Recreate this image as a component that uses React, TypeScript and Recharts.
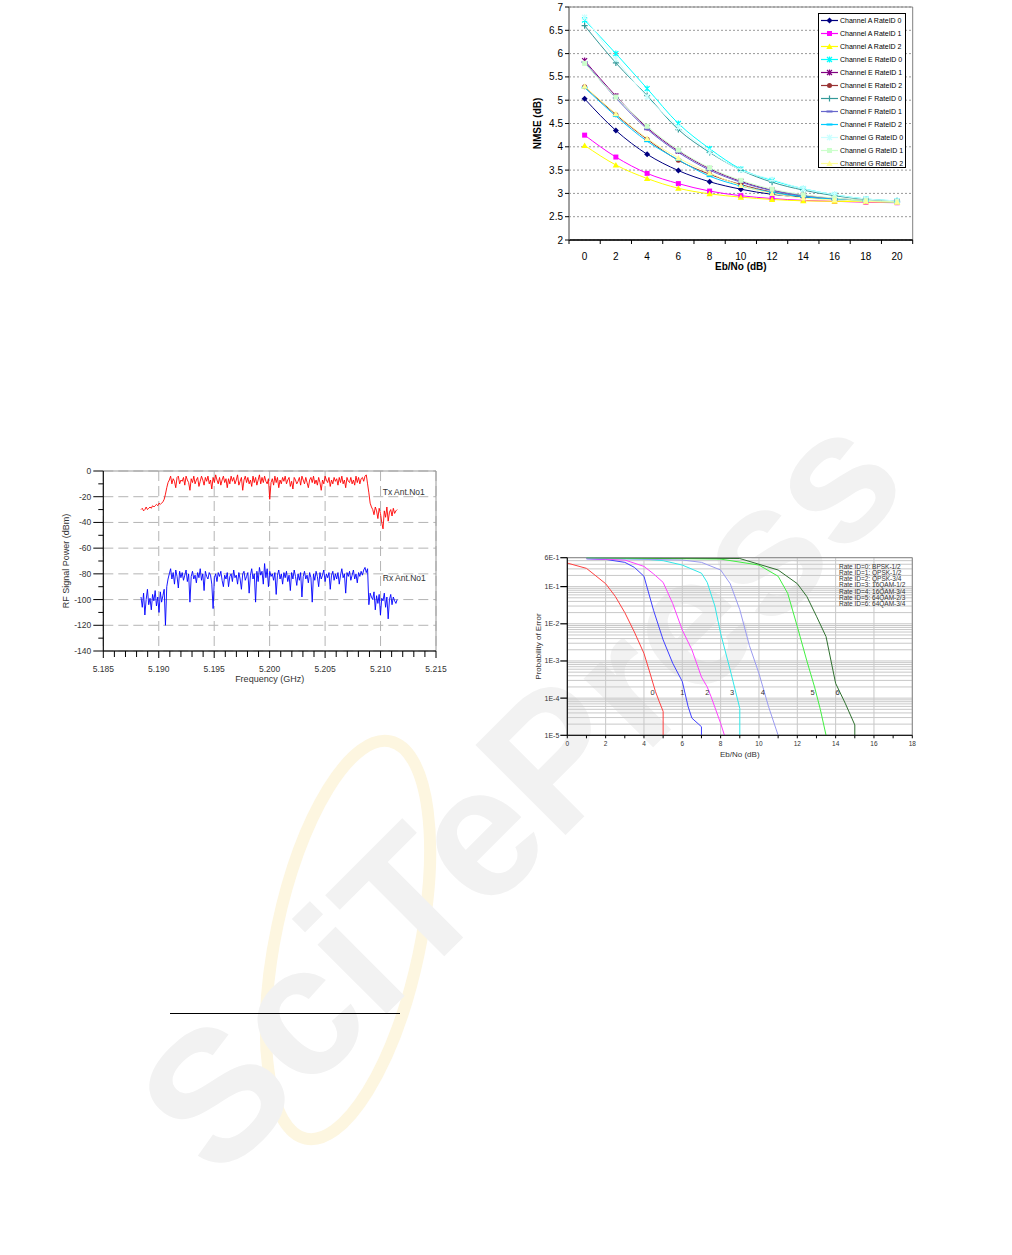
import React from "react"
import {
    LineChart,
    Line,
    XAxis,
    YAxis,
    CartesianGrid,
    ReferenceArea,
    ReferenceDot,
    Label
} from "recharts"

const FONT = "'Liberation Sans', Arial, sans-serif"

// ---------- NMSE vs Eb/No (top right) ----------
const ebNo = [0, 2, 4, 6, 8, 10, 12, 14, 16, 18, 20]
const nmseTicks = [2, 2.5, 3, 3.5, 4, 4.5, 5, 5.5, 6, 6.5, 7]
const chA0 = [5.03, 4.35, 3.84, 3.49, 3.25, 3.09, 2.98, 2.92, 2.87, 2.84, 2.82]
const chA1 = [4.25, 3.78, 3.43, 3.21, 3.05, 2.95, 2.89, 2.85, 2.83, 2.81, 2.8]
const chA2 = [4.03, 3.61, 3.32, 3.11, 2.99, 2.92, 2.87, 2.84, 2.83, 2.82, 2.81]
const chE0 = [6.72, 6.0, 5.25, 4.5, 3.96, 3.52, 3.28, 3.1, 2.97, 2.88, 2.84]
const chE1 = [5.85, 5.09, 4.41, 3.91, 3.53, 3.26, 3.07, 2.96, 2.89, 2.85, 2.82]
const chE2 = [5.29, 4.69, 4.16, 3.71, 3.41, 3.19, 3.03, 2.94, 2.88, 2.84, 2.81]
const chF0 = [6.6, 5.8, 5.1, 4.37, 3.88, 3.5, 3.24, 3.07, 2.95, 2.87, 2.84]
const chF1 = [5.82, 5.05, 4.38, 3.88, 3.5, 3.24, 3.06, 2.95, 2.88, 2.84, 2.82]
const chF2 = [5.27, 4.66, 4.12, 3.72, 3.37, 3.16, 3.02, 2.93, 2.87, 2.84, 2.81]
const chG0 = [6.78, 5.88, 5.07, 4.42, 3.9, 3.5, 3.3, 3.1, 2.97, 2.88, 2.84]
const chG1 = [5.79, 5.07, 4.44, 3.93, 3.55, 3.28, 3.09, 2.97, 2.9, 2.85, 2.82]
const chG2 = [5.3, 4.71, 4.18, 3.76, 3.44, 3.17, 3.0, 2.9, 2.86, 2.83, 2.81]

const nmseSeries = [
    { key: "a0", name: "Channel A RateID 0", color: "#000080", marker: "diamond", values: chA0 },
    { key: "a1", name: "Channel A RateID 1", color: "#ff00ff", marker: "square", values: chA1 },
    { key: "a2", name: "Channel A RateID 2", color: "#ffff00", marker: "triangle", values: chA2 },
    { key: "e0", name: "Channel E RateID 0", color: "#00ffff", marker: "star", values: chE0 },
    { key: "e1", name: "Channel E RateID 1", color: "#800080", marker: "star", values: chE1 },
    { key: "e2", name: "Channel E RateID 2", color: "#993333", marker: "circle", values: chE2 },
    { key: "f0", name: "Channel F RateID 0", color: "#339999", marker: "plus", values: chF0 },
    { key: "f1", name: "Channel F RateID 1", color: "#6666cc", marker: "dash", values: chF1 },
    { key: "f2", name: "Channel F RateID 2", color: "#00ccff", marker: "dash", values: chF2 },
    { key: "g0", name: "Channel G RateID 0", color: "#ccffff", marker: "star", values: chG0 },
    { key: "g1", name: "Channel G RateID 1", color: "#ccffcc", marker: "square", values: chG1 },
    { key: "g2", name: "Channel G RateID 2", color: "#ffff99", marker: "triangle", values: chG2 }
]

const nmseData = ebNo.map((x, i) => {
    const row: Record<string, number> = { x }
    nmseSeries.forEach(s => { row[s.key] = s.values[i] })
    return row
})

// ---------- RF signal power (left) ----------
const rfXTicks = [5.185, 5.19, 5.195, 5.2, 5.205, 5.21, 5.215]
const rfYTicks = [-140, -120, -100, -80, -60, -40, -20, 0]
const RF_START = 5.1884
const RF_END = 5.2115

const txPower = [
    -30, -29, -31, -30, -28, -30, -29, -28, -29, -27, -28, -27, -26, -27, -25, -26, -25, -24, -22,
    -18, -13, -9,
    -7, -4, -10, -6, -8, -13, -5, -4, -10, -7,
    -8, -5, -11, -4, -7, -9, -15, -6, -9, -4,
    -10, -7, -5, -12, -8, -4, -7, -11, -5, -8,
    -4, -10, -7, -14, -5, -9, -3, -7, -10, -5,
    -11, -7, -4, -9, -6, -13, -6, -10, -4, -8,
    -5, -10, -7, -3, -11, -8, -5, -15, -7, -4,
    -9, -5, -10, -7, -12, -4, -9, -5, -11, -7,
    -3, -10, -5, -9, -4, -8, -10, -6, -22, -9,
    -6, -11, -4, -9, -5, -13, -7, -10, -5, -8,
    -4, -10, -7, -5, -12, -8, -14, -5, -7, -10,
    -8, -5, -11, -4, -7, -10, -5, -9, -13, -7,
    -5, -9, -4, -10, -7, -11, -5, -9, -15, -7,
    -10, -4, -7, -9, -5, -12, -7, -10, -5, -8,
    -6, -11, -5, -9, -4, -10, -7, -13, -5, -8,
    -9, -5, -10, -7, -11, -4, -9, -5, -10, -6,
    -5, -8, -4, -3,
    -10, -17, -25, -28,
    -30, -34, -28, -31, -37, -29, -33, -40, -45, -31, -36, -28, -39, -32, -30, -35, -29, -33, -31, -30
]

const rxPower = [
    -98, -106, -95, -112, -100, -92, -104, -99, -108, -96, -101, -93, -105, -98, -110, -94, -102, -97, -92,
    -120, -90, -84,
    -80, -76, -84, -79, -88, -77, -82, -91, -78, -83,
    -79, -85, -81, -77, -86, -80, -102, -82, -78, -84,
    -81, -87, -79, -83, -76, -85, -80, -93, -78, -82,
    -84, -79, -81, -88, -107, -83, -80, -86, -79, -82,
    -78, -85, -90, -81, -84, -79, -90, -82, -80, -86,
    -77, -83, -81, -88, -79, -84, -92, -80, -78, -85,
    -82, -79, -95, -81, -76, -84, -80, -102, -78, -86,
    -75, -81, -78, -88, -72, -83, -76, -90, -78, -82,
    -80, -85, -79, -96, -81, -77, -84, -80, -88, -79,
    -83, -78, -86, -81, -93, -79, -84, -77, -82, -89,
    -80, -85, -79, -98, -82, -78, -84, -81, -87, -79,
    -83, -102, -80, -85, -78, -82, -90, -79, -84, -81,
    -77, -86, -80, -83, -79, -92, -81, -78, -85, -80,
    -84, -79, -88, -81, -76, -83, -80, -95, -79, -82,
    -78, -85, -81, -77, -84, -80, -87, -79, -82, -78,
    -81, -77, -75, -79,
    -76, -104, -95, -98,
    -100, -94, -108, -97, -103, -96, -112, -99, -101, -95, -106, -98, -115, -100, -96, -104, -98, -101, -103, -100
]

const rfData = txPower.map((tx, i) => ({
    f: RF_START + (i * (RF_END - RF_START)) / (txPower.length - 1),
    tx,
    rx: rxPower[i]
}))

// ---------- Probability of error (bottom right) ----------
const berXTicks = [0, 2, 4, 6, 8, 10, 12, 14, 16, 18]
const berYTicks = [
    1e-5, 2e-5, 3e-5, 4e-5, 5e-5, 6e-5, 7e-5, 8e-5, 9e-5,
    1e-4, 2e-4, 3e-4, 4e-4, 5e-4, 6e-4, 7e-4, 8e-4, 9e-4,
    1e-3, 2e-3, 3e-3, 4e-3, 5e-3, 6e-3, 7e-3, 8e-3, 9e-3,
    1e-2, 2e-2, 3e-2, 4e-2, 5e-2, 6e-2, 7e-2, 8e-2, 9e-2,
    0.1, 0.2, 0.3, 0.4, 0.5, 0.6
]
const berMajorTicks = [1e-5, 1e-4, 1e-3, 1e-2, 0.1, 0.6]
const berMajorLabels = ["1E-5", "1E-4", "1E-3", "1E-2", "1E-1", "6E-1"]

const ber0X = [0, 1, 2, 2.5, 3, 3.5, 4, 4.3, 4.6, 4.8, 5, 5]
const ber0Y = [0.43, 0.31, 0.12, 0.055, 0.02, 0.006, 0.0016, 0.0005, 0.00015, 0.00008, 0.000044, 0.00001]
const ber1X = [1, 2, 3, 3.5, 4, 4.5, 5, 5.5, 6, 6.3, 6.5, 7, 7]
const ber1Y = [0.56, 0.54, 0.45, 0.33, 0.19, 0.023, 0.0037, 0.00087, 0.00028, 0.00006, 0.000029, 0.000017, 0.00001]
const ber2X = [1, 3, 4, 4.5, 5, 5.5, 6, 6.5, 7, 7.3, 7.5, 8, 8.2]
const ber2Y = [0.57, 0.52, 0.35, 0.22, 0.13, 0.035, 0.0068, 0.002, 0.00037, 0.0002, 0.00011, 0.000021, 0.00001]
const ber3X = [1, 4, 5, 6, 7, 7.3, 7.7, 8, 8.5, 9, 9]
const ber3Y = [0.6, 0.55, 0.5, 0.38, 0.23, 0.13, 0.03, 0.0055, 0.00057, 0.000053, 0.00001]
const ber4X = [1, 6, 7, 8, 8.5, 9, 9.5, 10, 10.5, 11]
const ber4Y = [0.58, 0.52, 0.45, 0.28, 0.12, 0.024, 0.0026, 0.00046, 0.000059, 0.00001]
const ber5X = [1, 8, 10, 11, 11.5, 12, 12.5, 12.9, 13.2, 13.5]
const ber5Y = [0.6, 0.55, 0.38, 0.19, 0.066, 0.0084, 0.001, 0.0002, 0.00005, 0.00001]
const ber6X = [1, 9, 11, 12, 12.5, 13, 13.5, 14, 14.5, 15, 15]
const ber6Y = [0.6, 0.57, 0.28, 0.12, 0.054, 0.016, 0.0045, 0.00025, 0.000073, 0.000019, 0.00001]

const berSeries = [
    { id: "0", color: "#ff4040", xs: ber0X, ys: ber0Y, labelX: 4.45 },
    { id: "1", color: "#4040ff", xs: ber1X, ys: ber1Y, labelX: 6.0 },
    { id: "2", color: "#ff40ff", xs: ber2X, ys: ber2Y, labelX: 7.3 },
    { id: "3", color: "#30e8e8", xs: ber3X, ys: ber3Y, labelX: 8.6 },
    { id: "4", color: "#9a9af0", xs: ber4X, ys: ber4Y, labelX: 10.2 },
    { id: "5", color: "#40f040", xs: ber5X, ys: ber5Y, labelX: 12.8 },
    { id: "6", color: "#2f702f", xs: ber6X, ys: ber6Y, labelX: 14.1 }
]
const BER_LABEL_Y = 1.4e-4

const rateLegend = [
    "Rate ID=0: BPSK-1/2",
    "Rate ID=1: QPSK-1/2",
    "Rate ID=2: QPSK-3/4",
    "Rate ID=3: 16QAM-1/2",
    "Rate ID=4: 16QAM-3/4",
    "Rate ID=5: 64QAM-2/3",
    "Rate ID=6: 64QAM-3/4"
]

// ---------- helpers ----------
function Marker({ kind, cx, cy, color }: { kind: string, cx: number, cy: number, color: string }) {
    if (cx == null || cy == null) return <g />
    switch (kind) {
        case "diamond":
            return <path d={`M${cx} ${cy - 3}L${cx + 3} ${cy}L${cx} ${cy + 3}L${cx - 3} ${cy}Z`} fill={color} />
        case "square":
            return <rect x={cx - 2.5} y={cy - 2.5} width={5} height={5} fill={color} />
        case "triangle":
            return <path d={`M${cx} ${cy - 3}L${cx + 3.2} ${cy + 2.5}L${cx - 3.2} ${cy + 2.5}Z`} fill={color} />
        case "circle":
            return <circle cx={cx} cy={cy} r={2.5} fill={color} />
        case "plus":
            return <path d={`M${cx - 3} ${cy}H${cx + 3}M${cx} ${cy - 3}V${cy + 3}`} stroke={color} strokeWidth={1.2} />
        case "dash":
            return <path d={`M${cx - 3} ${cy}H${cx + 3}`} stroke={color} strokeWidth={2} />
        default:
            return (
                <path
                    d={`M${cx - 2.5} ${cy - 2.5}L${cx + 2.5} ${cy + 2.5}M${cx - 2.5} ${cy + 2.5}L${cx + 2.5} ${cy - 2.5}M${cx} ${cy - 3}V${cy + 3}`}
                    stroke={color}
                    strokeWidth={1.2}
                />
            )
    }
}

const NMSE_HALF = (912.7 - 569) / 22

function NmseXTick({ x, y, payload }: any) {
    const last = payload.value === ebNo[ebNo.length - 1]
    return (
        <g>
            <line x1={x - NMSE_HALF} x2={x - NMSE_HALF} y1={y} y2={y + 4} stroke="#000" />
            {last && <line x1={x + NMSE_HALF} x2={x + NMSE_HALF} y1={y} y2={y + 4} stroke="#000" />}
            <text x={x} y={y + 20} textAnchor="middle" fontSize={10} fontFamily={FONT} fill="#000">
                {payload.value}
            </text>
        </g>
    )
}

function NmseYTick({ x, y, payload }: any) {
    return (
        <g>
            <line x1={x - 4} x2={x} y1={y} y2={y} stroke="#000" />
            <text x={x - 6} y={y} dy="0.35em" textAnchor="end" fontSize={10} fontFamily={FONT} fill="#000">
                {payload.value}
            </text>
        </g>
    )
}

const RF_MAJOR_PX = (436 - 103.3) / 6
const RF_STEP_PX = 180 / 7

function RfXTick({ x, y, payload }: any) {
    const minors = payload.value < 5.2145 ? [1, 2, 3, 4] : []
    return (
        <g>
            <line x1={x} x2={x} y1={y} y2={y + 7} stroke="#000" />
            {minors.map(k => (
                <line key={k} x1={x + (k * RF_MAJOR_PX) / 5} x2={x + (k * RF_MAJOR_PX) / 5} y1={y} y2={y + 6} stroke="#000" />
            ))}
            <text x={x} y={y + 21} textAnchor="middle" fontSize={8.5} fontFamily={FONT} fill="#333">
                {payload.value.toFixed(3)}
            </text>
        </g>
    )
}

function RfYTick({ x, y, payload }: any) {
    return (
        <g>
            <line x1={x - 10} x2={x} y1={y} y2={y} stroke="#000" />
            {payload.value < 0 && (
                <line x1={x - 5} x2={x} y1={y - RF_STEP_PX / 2} y2={y - RF_STEP_PX / 2} stroke="#000" />
            )}
            <text x={x - 12} y={y} dy="0.35em" textAnchor="end" fontSize={8.5} fontFamily={FONT} fill="#333">
                {payload.value}
            </text>
        </g>
    )
}

const BER_UNIT_PX = (912.3 - 567.3) / 18

function BerXTick({ x, y, payload }: any) {
    return (
        <g>
            <line x1={x} x2={x} y1={y} y2={y + 3} stroke="#000" />
            {payload.value < 18 && (
                <line x1={x + BER_UNIT_PX} x2={x + BER_UNIT_PX} y1={y} y2={y + 3} stroke="#000" />
            )}
            <text x={x} y={y + 11} textAnchor="middle" fontSize={6.5} fontFamily={FONT} fill="#333">
                {payload.value}
            </text>
        </g>
    )
}

function BerYTick({ x, y, payload }: any) {
    const idx = berMajorTicks.findIndex(t => Math.abs(t - payload.value) / t < 1e-6)
    if (idx < 0) return <g />
    return (
        <g>
            <line x1={x - 7} x2={x} y1={y} y2={y} stroke="#000" strokeWidth={1.2} />
            <text x={x - 8} y={y} dy="0.35em" textAnchor="end" fontSize={7} fontFamily={FONT} fill="#333">
                {berMajorLabels[idx]}
            </text>
        </g>
    )
}

// ---------- charts ----------
function NmseChart() {
    return (
        <LineChart width={400} height={280} data={nmseData} margin={{ top: 7, right: 17.3, left: 0, bottom: 0 }}>
            <CartesianGrid vertical={false} stroke="#999" strokeDasharray="2 2" />
            <ReferenceArea x1={-1} x2={21} y1={2} y2={7} fill="none" stroke="#808080" />
            <XAxis
                dataKey="x"
                type="number"
                domain={[-1, 21]}
                ticks={ebNo}
                interval={0}
                tick={<NmseXTick />}
                tickLine={false}
                tickSize={0}
                tickMargin={0}
                axisLine={{ stroke: "#000", strokeWidth: 1.3 }}
                height={40}
            >
                <Label value="Eb/No (dB)" position="insideBottom" offset={10}
                    style={{ fontSize: 10, fontWeight: "bold", fontFamily: FONT, fill: "#000" }} />
            </XAxis>
            <YAxis
                type="number"
                domain={[2, 7]}
                ticks={nmseTicks}
                interval={0}
                tick={<NmseYTick />}
                tickLine={false}
                tickSize={0}
                tickMargin={0}
                axisLine={{ stroke: "#808080" }}
                width={39}
            >
                <Label value="NMSE (dB)" angle={-90} position="insideLeft" offset={7}
                    style={{ textAnchor: "middle", fontSize: 10, fontWeight: "bold", fontFamily: FONT, fill: "#000" }} />
            </YAxis>
            {nmseSeries.map(s => (
                <Line
                    key={s.key}
                    dataKey={s.key}
                    name={s.name}
                    type="monotone"
                    stroke={s.color}
                    strokeWidth={1}
                    isAnimationActive={false}
                    dot={(p: any) => (
                        <g key={`${s.key}-${p.index}`}>
                            <Marker kind={s.marker} cx={p.cx} cy={p.cy} color={s.color} />
                        </g>
                    )}
                    activeDot={false}
                />
            ))}
        </LineChart>
    )
}

function NmseLegend() {
    return (
        <div style={{
            position: "absolute", left: 818, top: 12.7, width: 88, height: 155.5,
            border: "1px solid #000", boxSizing: "border-box", background: "#fff", paddingTop: 0.5
        }}>
            {nmseSeries.map(s => (
                <div key={s.key} style={{ height: 13, display: "flex", alignItems: "center" }}>
                    <svg width={20} height={13} style={{ flex: "none" }}>
                        <line x1={2} x2={19} y1={6.5} y2={6.5} stroke={s.color} strokeWidth={1.2} />
                        <Marker kind={s.marker} cx={10.5} cy={6.5} color={s.color} />
                    </svg>
                    <span style={{ fontSize: 7, fontFamily: FONT, color: "#000", marginLeft: 1, whiteSpace: "nowrap" }}>
                        {s.name}
                    </span>
                </div>
            ))}
        </div>
    )
}

function RfChart() {
    return (
        <LineChart width={405} height={230} data={rfData} margin={{ top: 11, right: 24, left: 0, bottom: 0 }}>
            <CartesianGrid stroke="#b4b4b4" strokeDasharray="10 5" />
            <ReferenceArea x1={5.185} x2={5.215} y1={-140} y2={0} fill="none" stroke="#999" />
            <XAxis
                dataKey="f"
                type="number"
                domain={[5.185, 5.215]}
                ticks={rfXTicks}
                interval={0}
                tick={<RfXTick />}
                tickLine={false}
                tickSize={0}
                tickMargin={0}
                axisLine={{ stroke: "#000" }}
                height={39}
            >
                <Label value="Frequency (GHz)" position="insideBottom" offset={8}
                    style={{ fontSize: 9, fontFamily: FONT, fill: "#333" }} />
            </XAxis>
            <YAxis
                type="number"
                domain={[-140, 0]}
                ticks={rfYTicks}
                interval={0}
                tick={<RfYTick />}
                tickLine={false}
                tickSize={0}
                tickMargin={0}
                axisLine={{ stroke: "#000" }}
                width={48.3}
            >
                <Label value="RF Signal Power (dBm)" angle={-90} position="insideLeft" offset={11}
                    style={{ textAnchor: "middle", fontSize: 9, fontFamily: FONT, fill: "#333" }} />
            </YAxis>
            <Line dataKey="tx" type="linear" stroke="#ff0000" strokeWidth={0.9} dot={false} activeDot={false} isAnimationActive={false} />
            <Line dataKey="rx" type="linear" stroke="#0000ff" strokeWidth={0.9} dot={false} activeDot={false} isAnimationActive={false} />
            <ReferenceDot x={5.2102} y={-16} r={0} fill="none" stroke="none"
                label={{ value: "Tx Ant.No1", position: "right", offset: 0, fontSize: 8.5, fill: "#333", fontFamily: FONT }} />
            <ReferenceDot x={5.2102} y={-83} r={0} fill="none" stroke="none"
                label={{ value: "Rx Ant.No1", position: "right", offset: 0, fontSize: 8.5, fill: "#333", fontFamily: FONT }} />
        </LineChart>
    )
}

function BerChart() {
    return (
        <LineChart width={390} height={215} margin={{ top: 7.7, right: 7.7, left: 0, bottom: 0 }}>
            <CartesianGrid stroke="#c8c8c8" />
            <ReferenceArea x1={0} x2={18} y1={1e-5} y2={0.6} fill="none" stroke="#888" />
            <XAxis
                dataKey="x"
                type="number"
                domain={[0, 18]}
                ticks={berXTicks}
                interval={0}
                tick={<BerXTick />}
                tickLine={false}
                tickSize={0}
                tickMargin={0}
                axisLine={{ stroke: "#000" }}
                height={29.7}
                allowDuplicatedCategory={false}
            >
                <Label value="Eb/No (dB)" position="insideBottom" offset={8}
                    style={{ fontSize: 8, fontFamily: FONT, fill: "#333" }} />
            </XAxis>
            <YAxis
                type="number"
                scale="log"
                domain={[1e-5, 0.6]}
                allowDataOverflow
                ticks={berYTicks}
                interval={0}
                tick={<BerYTick />}
                tickLine={false}
                tickSize={0}
                tickMargin={0}
                axisLine={{ stroke: "#000" }}
                width={37.3}
            >
                <Label value="Probability of Error" angle={-90} position="insideLeft" offset={8}
                    style={{ textAnchor: "middle", fontSize: 8, fontFamily: FONT, fill: "#333" }} />
            </YAxis>
            {berSeries.map(s => (
                <Line
                    key={s.id}
                    data={s.xs.map((x, i) => ({ x, y: s.ys[i] }))}
                    dataKey="y"
                    type="linear"
                    stroke={s.color}
                    strokeWidth={1}
                    dot={false}
                    activeDot={false}
                    isAnimationActive={false}
                />
            ))}
            {berSeries.map(s => (
                <ReferenceDot key={`lbl-${s.id}`} x={s.labelX} y={BER_LABEL_Y} r={0} fill="none" stroke="none"
                    label={{ value: s.id, position: "center", fontSize: 7.5, fill: "#333", fontFamily: FONT }} />
            ))}
        </LineChart>
    )
}

function RateLegend() {
    return (
        <div style={{ position: "absolute", left: 839, top: 564, lineHeight: "6.15px" }}>
            {rateLegend.map(t => (
                <div key={t} style={{ fontSize: 6.5, fontFamily: FONT, color: "#333", whiteSpace: "nowrap", height: 6.15 }}>
                    {t}
                </div>
            ))}
        </div>
    )
}

function Watermark() {
    return (
        <svg width={1012} height={1255} style={{ position: "absolute", left: 0, top: 0 }}>
            <ellipse cx={348} cy={940} rx={72} ry={203} transform="rotate(12 348 940)"
                fill="none" stroke="#fdf6e0" strokeWidth={12} />
            <text
                x={0}
                y={0}
                transform="translate(520 790) rotate(-45)"
                textAnchor="middle"
                dominantBaseline="central"
                fontSize={185}
                fontWeight="bold"
                fontFamily={FONT}
                fill="#f2f2f2"
            >
                SciTePress
            </text>
        </svg>
    )
}

export default function App() {
    return (
        <div style={{ position: "absolute", left: 0, top: 0, width: 1012, height: 1255, background: "#fff", overflow: "hidden" }}>
            <Watermark />
            <div style={{ position: "absolute", left: 530, top: 0 }}>
                <NmseChart />
            </div>
            <NmseLegend />
            <div style={{ position: "absolute", left: 55, top: 460 }}>
                <RfChart />
            </div>
            <div style={{ position: "absolute", left: 530, top: 550 }}>
                <BerChart />
            </div>
            <RateLegend />
            <div style={{ position: "absolute", left: 170, top: 1013, width: 230, height: 1, background: "#000" }} />
        </div>
    )
}
